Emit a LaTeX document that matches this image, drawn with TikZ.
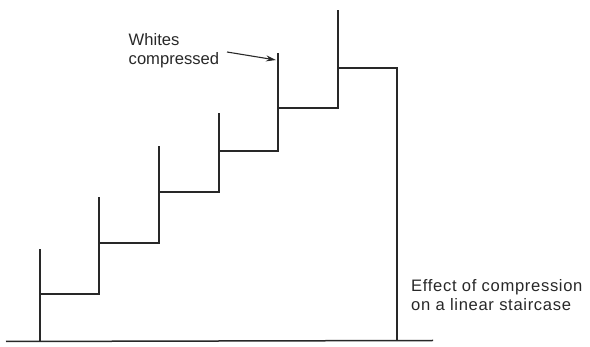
\documentclass[tikz,border=0pt]{standalone}
\usepackage{fontspec}
\setmainfont{Liberation Sans}
\usetikzlibrary{arrows.meta}
\definecolor{ink}{RGB}{40,40,40}
\tikzset{
  stair/.style={draw=ink, line width=1.8pt, line join=miter, line cap=butt},
  ground/.style={draw=ink, line width=1.5pt},
  pointer/.style={draw=ink, line width=1.1pt, -{Stealth[length=10pt,width=6pt]}},
  lbl/.style={text=ink, inner sep=0pt, align=left, font=\fontsize{16.6}{18.5}\selectfont},
  lblwide/.style={lbl, font=\fontsize{16.6}{19}\selectfont\addfontfeature{LetterSpace=4}}
}
\begin{document}
\begin{tikzpicture}[x=1pt,y=-1pt]
\useasboundingbox (0,0) rectangle (590,347);
% key points
\coordinate (g0) at (6,341.5);
\coordinate (g1) at (433,340.5);
\coordinate (t0) at (40,249);
\coordinate (b0) at (40,341);
\coordinate (t1) at (99,197);
\coordinate (t2) at (159,146);
\coordinate (t3) at (219,113);
\coordinate (t4) at (278,53);
\coordinate (t5) at (338,10);
\coordinate (end) at (397,341);
% ground line
\draw[ground] (g0) -- (g1);
% staircase
\draw[stair] (b0) -- (t0);
\draw[stair] (40,294) -- (99,294) -- (t1);
\draw[stair] (99,243) -- (159,243) -- (t2);
\draw[stair] (159,192) -- (219,192) -- (t3);
\draw[stair] (219,151) -- (278,151) -- (t4);
\draw[stair] (278,108) -- (338,108) -- (t5);
\draw[stair] (338,68) -- (397,68) -- (end);
% labels (base anchor = baseline of the last line)
\node[lbl, anchor=base west] (whites) at (128.5,64.5) {Whites\\compressed};
\node[lblwide, anchor=base west] (effect) at (411,311) {Effect of compression\\on a linear staircase};
\coordinate (arrS) at (227,52);
\coordinate (arrE) at (276,60);
\draw[pointer] (arrS) -- (arrE);
\end{tikzpicture}
\end{document}
